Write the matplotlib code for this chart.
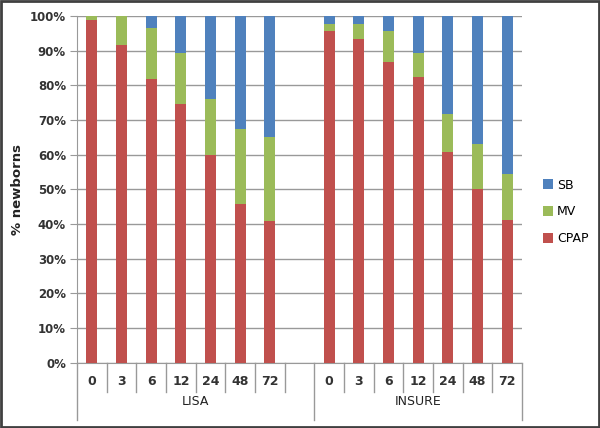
import matplotlib
matplotlib.use("Agg")
import matplotlib.pyplot as plt
from matplotlib.patches import Rectangle
import matplotlib.transforms as mtransforms

groups = ["LISA", "INSURE"]
hours = ["0", "3", "6", "12", "24", "48", "72"]

cpap_lisa = [98.8, 91.5, 81.9, 74.6, 59.9, 45.8, 41.0]
mv_lisa = [1.2, 8.5, 14.6, 14.6, 16.1, 21.5, 24.1]
sb_lisa = [0.0, 0.0, 3.5, 10.8, 24.0, 32.7, 34.9]

cpap_insure = [95.7, 93.4, 86.6, 82.4, 60.8, 50.0, 41.2]
mv_insure = [2.0, 4.3, 9.1, 6.8, 10.9, 13.1, 13.2]
sb_insure = [2.3, 2.3, 4.3, 10.8, 28.3, 36.9, 45.6]

c_sb = "#4F81BD"
c_mv = "#9BBB59"
c_cpap = "#C0504D"

fig = plt.figure(figsize=(6.0, 4.28), dpi=100)
ax = fig.add_axes([77/600, 65.3/428, 445/600, 346.7/428])

n = len(hours)
x_lisa = list(range(n))
x_ins = [i + n + 1 for i in range(n)]
w = 0.38

for xs, cp, mv, sb in [(x_lisa, cpap_lisa, mv_lisa, sb_lisa), (x_ins, cpap_insure, mv_insure, sb_insure)]:
    ax.bar(xs, cp, w, color=c_cpap, zorder=3, label="CPAP" if xs is x_lisa else None)
    ax.bar(xs, mv, w, bottom=cp, color=c_mv, zorder=3, label="MV" if xs is x_lisa else None)
    bot = [a + b for a, b in zip(cp, mv)]
    ax.bar(xs, sb, w, bottom=bot, color=c_sb, zorder=3, label="SB" if xs is x_lisa else None)

total = 2 * n + 1
ax.set_xlim(-0.5, total - 0.5)
ax.set_ylim(0, 100)
ax.set_yticks(range(0, 101, 10))
ax.set_yticklabels([f"{v}%" for v in range(0, 101, 10)], fontsize=8.5, fontweight="bold", color="#333333")
ax.yaxis.grid(True, color="#999999", linewidth=1.0, zorder=0)
ax.set_axisbelow(True)
ax.tick_params(axis="y", length=5, color="#999999", pad=3)
ax.set_xticks([])
for s in ["top", "right"]:
    ax.spines[s].set_visible(False)
ax.spines["left"].set_color("#999999")
ax.spines["bottom"].set_color("#999999")
ax.set_ylabel("% newborns", fontsize=9.5, fontweight="bold", color="#222222", labelpad=4)

trans = mtransforms.blended_transform_factory(ax.transData, ax.transAxes)
short = -0.0837
long_ = -0.165
lc = "#999999"
for b in range(total + 1):
    xb = b - 0.5
    y1 = long_ if b in (0, n + 1, total) else short
    ax.plot([xb, xb], [0, y1], transform=trans, color=lc, lw=1.0, clip_on=False)
for xs in (x_lisa, x_ins):
    for xi, h in zip(xs, hours):
        ax.text(xi, -0.055, h, transform=trans, ha="center", va="center", fontsize=9, fontweight="bold", color="#333333")
ax.text((-0.5 + n + 0.5) / 2, -0.1125, groups[0], transform=trans, ha="center", va="center", fontsize=9, color="#222222")
ax.text((n + 0.5 + total - 0.5) / 2, -0.1125, groups[1], transform=trans, ha="center", va="center", fontsize=9, color="#222222")

handles, labels = ax.get_legend_handles_labels()
leg = fig.legend(handles[::-1], labels[::-1], loc="center left", bbox_to_anchor=(0.887, 0.505),
                 frameon=False, fontsize=9, handlelength=0.8, handleheight=0.9, handletextpad=0.3, labelspacing=1.1)

fig.patches.append(Rectangle((0.002, 0.003), 0.996, 0.994, transform=fig.transFigure, fill=False,
                             edgecolor="#404040", linewidth=2.0))
fig.savefig("out.png", dpi=100)
